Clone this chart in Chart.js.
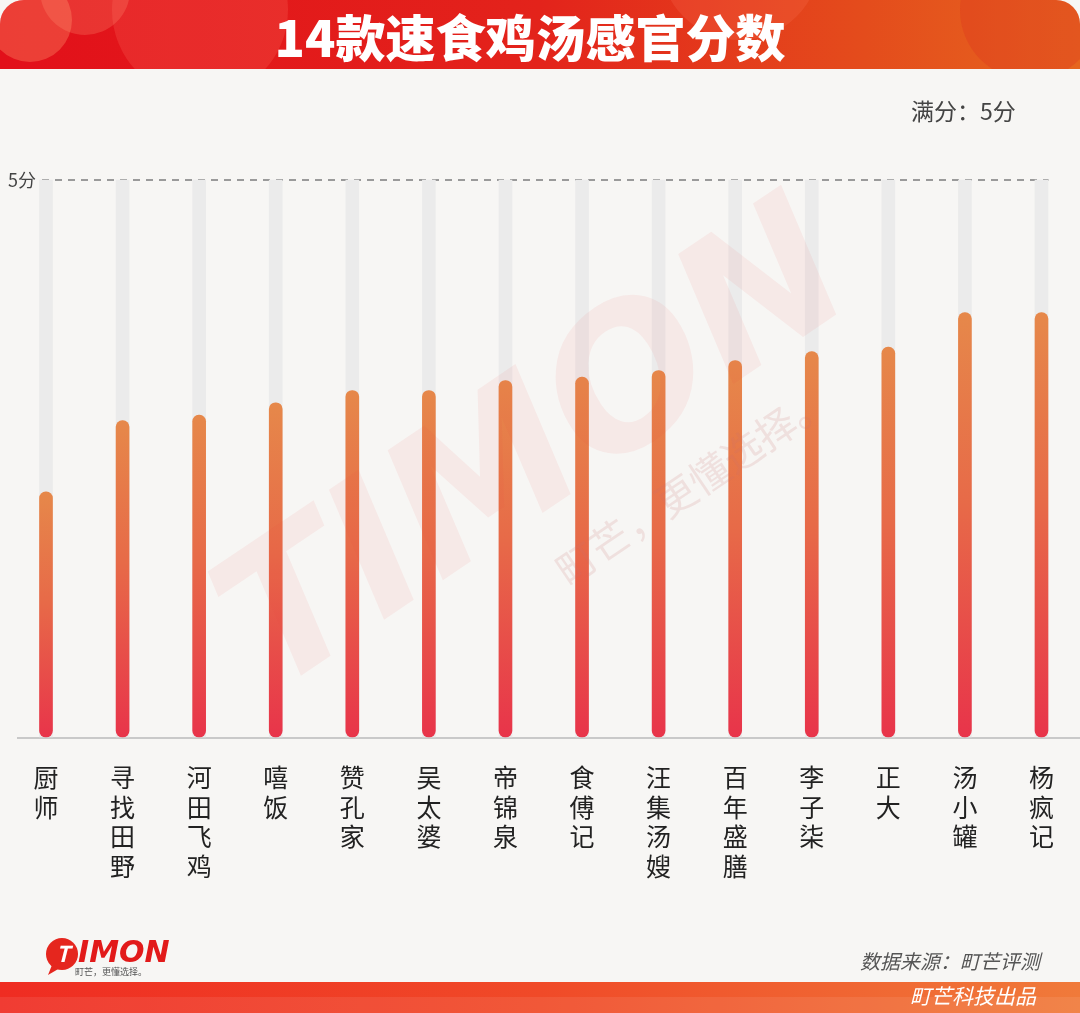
<!DOCTYPE html>
<html>
<head>
<meta charset="utf-8">
<script src="https://cdn.jsdelivr.net/npm/chart.js@4"></script>
<style>
  html, body { margin: 0; padding: 0; background: #f7f6f4; }
  #wrap { width: 1080px; height: 1013px; position: relative; }
</style>
</head>
<body>
<div id="wrap"><canvas id="c"></canvas></div>
<script>
const title = '14款速食鸡汤感官分数';
const categories = ['厨师','寻找田野','河田飞鸡','嘻饭','赞孔家','吴太婆','帝锦泉','食傅记','汪集汤嫂','百年盛膳','李子柒','正大','汤小罐','杨疯记'];
const scores = [2.20, 2.84, 2.89, 3.00, 3.11, 3.11, 3.20, 3.23, 3.29, 3.38, 3.46, 3.50, 3.81, 3.81];
const fullScore = 5;
const trackValues = [5,5,5,5,5,5,5,5,5,5,5,5,5,5];
const topNote = '满分：5分';
const maxLabel = '5分';
const sourceNote = '数据来源：町芒评测';
const footerNote = '町芒科技出品';

const FONT = '"Noto Sans CJK SC", "Noto Sans", sans-serif';

function barGradient(ctx) {
  const chart = ctx.chart;
  if (!chart.chartArea || ctx.type !== 'data') return '#e8394a';
  const y = chart.scales.y;
  const top = y.getPixelForValue(ctx.raw);
  const bottom = y.getPixelForValue(0);
  const g = chart.ctx.createLinearGradient(0, top, 0, bottom);
  g.addColorStop(0, '#e6884a');
  g.addColorStop(0.45, '#e76a48');
  g.addColorStop(1, '#e8344a');
  return g;
}

const deco = {
  id: 'deco',
  beforeDraw(chart) {
    const ctx = chart.ctx;
    const W = chart.width, H = chart.height;
    ctx.save();
    ctx.fillStyle = '#f7f6f4';
    ctx.fillRect(0, 0, W, H);

    // title bar
    ctx.save();
    ctx.beginPath();
    ctx.roundRect(0, 0, W, 69, [24, 24, 0, 0]);
    ctx.clip();
    let g = ctx.createLinearGradient(0, 0, W, 0);
    g.addColorStop(0, '#e2101a');
    g.addColorStop(0.5, '#e3231b');
    g.addColorStop(0.8, '#e44c1c');
    g.addColorStop(1, '#e6661f');
    ctx.fillStyle = g;
    ctx.fillRect(0, 0, W, 69);
    const circles = [
      [30, 20, 42, 'rgba(255,150,110,0.35)'],
      [200, 10, 88, 'rgba(255,120,100,0.22)'],
      [85, -10, 45, 'rgba(255,150,120,0.25)'],
      [740, -40, 80, 'rgba(255,130,100,0.18)'],
      [1030, 10, 70, 'rgba(220,40,30,0.25)']
    ];
    circles.forEach(c => {
      ctx.beginPath();
      ctx.arc(c[0], c[1], c[2], 0, Math.PI * 2);
      ctx.fillStyle = c[3];
      ctx.fill();
    });
    ctx.restore();

    ctx.fillStyle = '#ffffff';
    ctx.font = '900 50px ' + FONT;
    ctx.textAlign = 'center';
    ctx.textBaseline = 'middle';
    ctx.fillText(title, 530, 38);

    // baseline
    const ca = chart.chartArea;
    ctx.strokeStyle = '#c9c9c9';
    ctx.lineWidth = 2;
    ctx.beginPath();
    ctx.moveTo(17, ca.bottom + 1);
    ctx.lineTo(W, ca.bottom + 1);
    ctx.stroke();

    // dashed full-score line
    const y5 = chart.scales.y.getPixelForValue(fullScore);
    ctx.strokeStyle = '#9a9a9a';
    ctx.setLineDash([7, 6]);
    ctx.beginPath();
    ctx.moveTo(ca.left - 4, y5);
    ctx.lineTo(ca.right + 7, y5);
    ctx.stroke();
    ctx.setLineDash([]);

    ctx.fillStyle = '#444';
    ctx.font = '18px ' + FONT;
    ctx.textAlign = 'left';
    ctx.textBaseline = 'middle';
    ctx.fillText(maxLabel, 8, y5);

    ctx.font = '23px ' + FONT;
    ctx.fillText(topNote, 911, 111);

    // bottom bar
    g = ctx.createLinearGradient(0, 0, W, 0);
    g.addColorStop(0, '#ef2c22');
    g.addColorStop(0.5, '#f04a28');
    g.addColorStop(1, '#f07a3a');
    ctx.fillStyle = g;
    ctx.fillRect(0, 982, W, H - 982);
    ctx.fillStyle = 'rgba(255,255,255,0.08)';
    ctx.fillRect(0, 997, W, 16);

    ctx.fillStyle = '#ffffff';
    ctx.font = 'italic 21px ' + FONT;
    ctx.textAlign = 'right';
    ctx.fillText(footerNote, 1036, 996);

    ctx.fillStyle = '#555';
    ctx.font = 'italic 20px ' + FONT;
    ctx.fillText(sourceNote, 1040, 961);

    // logo
    ctx.beginPath();
    ctx.arc(62, 954, 16, 0, Math.PI * 2);
    ctx.fillStyle = '#e5261e';
    ctx.fill();
    ctx.beginPath();
    ctx.moveTo(52, 965); ctx.lineTo(48, 975); ctx.lineTo(60, 968); ctx.closePath();
    ctx.fill();
    ctx.fillStyle = '#fff';
    ctx.font = 'bold italic 22px ' + FONT;
    ctx.textAlign = 'center';
    ctx.fillText('T', 63, 954);
    ctx.fillStyle = '#e21a1a';
    ctx.font = 'bold italic 30px "DejaVu Sans", sans-serif';
    ctx.textAlign = 'left';
    ctx.fillText('IMON', 78, 954);
    ctx.fillStyle = '#555';
    ctx.font = '9px ' + FONT;
    ctx.fillText('町芒，更懂选择。', 75, 972);
    ctx.restore();
  },
  afterDraw(chart) {
    const ctx = chart.ctx;
    ctx.save();
    ctx.translate(540, 455);
    ctx.rotate(-34 * Math.PI / 180);
    ctx.fillStyle = 'rgba(235,70,70,0.07)';
    ctx.font = 'bold italic 190px "DejaVu Sans", sans-serif';
    ctx.textAlign = 'center';
    ctx.textBaseline = 'middle';
    ctx.fillText('TIMON', 0, 0);
    ctx.fillStyle = 'rgba(200,110,110,0.16)';
    ctx.font = '40px ' + FONT;
    ctx.fillText('町芒，更懂选择。', 110, 110);
    ctx.restore();
  }
};

new Chart(document.getElementById('c'), {
  type: 'bar',
  data: {
    labels: categories,
    datasets: [
      {
        label: '得分',
        data: scores,
        backgroundColor: barGradient,
        barThickness: 13,
        borderRadius: 7,
        borderSkipped: false,
        grouped: false,
        clip: false,
        order: 0
      },
      {
        label: '满分',
        data: trackValues,
        backgroundColor: '#ebebeb',
        barThickness: 13,
        borderRadius: 0,
        borderSkipped: false,
        grouped: false,
        clip: false,
        order: 1
      }
    ]
  },
  options: {
    responsive: true,
    maintainAspectRatio: false,
    animation: false,
    layout: { padding: { left: 46, right: 31, top: 180, bottom: 0 } },
    plugins: { legend: { display: false }, tooltip: { enabled: false } },
    scales: {
      x: {
        offset: false,
        grid: { display: false, drawTicks: false },
        border: { display: false },
        ticks: {
          color: '#222',
          font: { family: FONT, size: 25, lineHeight: 1.18 },
          padding: 26,
          maxRotation: 0,
          autoSkip: false,
          callback: function(v, i) { return categories[i].split(''); }
        },
        afterFit(scale) { scale.height = 1013 - 737; }
      },
      y: {
        display: false,
        min: 0,
        max: fullScore
      }
    }
  },
  plugins: [deco]
});
</script>
</body>
</html>
